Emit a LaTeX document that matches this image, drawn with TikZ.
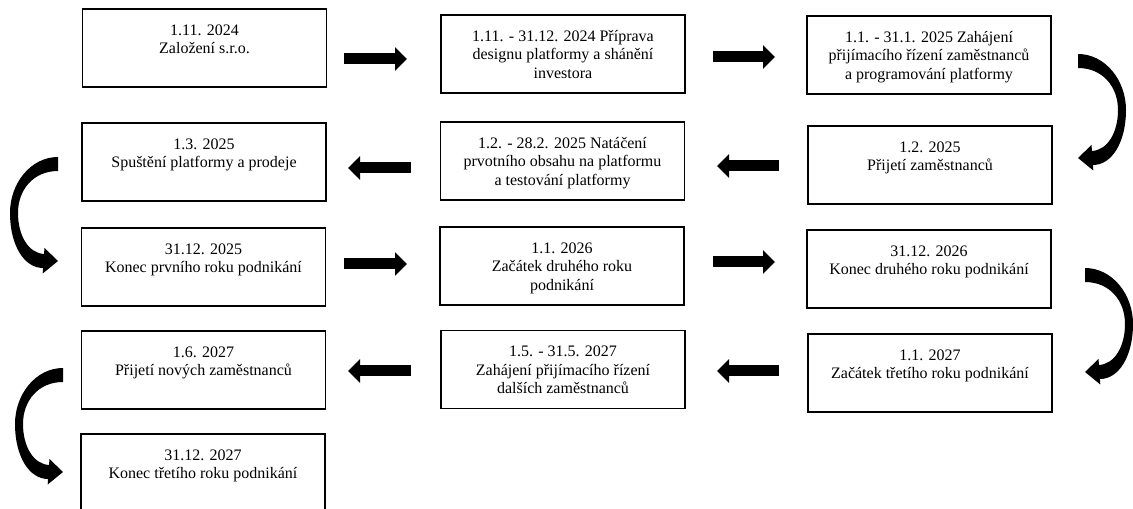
\documentclass[tikz,border=0pt]{standalone}
\usepackage{fontspec}
\setmainfont{Liberation Serif}
\usetikzlibrary{arrows.meta}
\begin{document}
\begin{tikzpicture}[x=0.75pt,y=-0.75pt,
  box/.style={draw=black, line width=0.8pt, minimum width=183pt, minimum height=58.5pt, inner sep=0pt},
  lbl/.style={anchor=north, align=center, inner sep=0pt, font=\rmfamily\fontsize{12pt}{13.8pt}\selectfont},
  barrow/.style={line width=8.25pt, -{Triangle[length=9pt,width=17.25pt]}},
  curvarr/.pic={\fill[black] (0,0) .. controls (27,0) and (48,26) .. (48,56)
     .. controls (48,88) and (34,111) .. (15,111) -- (15.3,116.5) -- (0,104) -- (13.5,91) -- (14,97)
     .. controls (30,96) and (40,78) .. (40,56)
     .. controls (40,32) and (24,14) .. (0,14) -- cycle;}
]
\useasboundingbox (0,0) rectangle (1133,509);
\clip (0,0) rectangle (1133,509);

% boxes
\node[box] (b1) at (204.5,48) {};
\node[box] (b2) at (563,54) {};
\node[box] (b3) at (929,55) {};
\node[box] (b4) at (204,162) {};
\node[box] (b5) at (562.5,161) {};
\node[box] (b6) at (930,165) {};
\node[box] (b7) at (203.5,267) {};
\node[box] (b8) at (562,266) {};
\node[box] (b9) at (929,269) {};
\node[box] (b10) at (203.5,370) {};
\node[box] (b11) at (563,369.5) {};
\node[box] (b12) at (930,373) {};
\node[box] (b13) at (203,473) {};

% texts
\node[lbl] (t1) at ([yshift=-10.2pt]b1.north) {\strut 1.11. 2024\\Založení s.r.o.};
\node[lbl] (t2) at ([yshift=-10.2pt]b2.north) {\strut 1.11. - 31.12. 2024 Příprava\\designu platformy a shánění\\investora};
\node[lbl] (t3) at ([yshift=-10.2pt]b3.north) {\strut 1.1. - 31.1. 2025 Zahájení\\přijímacího řízení zaměstnanců\\a programování platformy};
\node[lbl] (t4) at ([yshift=-10.2pt]b4.north) {\strut 1.3. 2025\\Spuštění platformy a prodeje};
\node[lbl] (t5) at ([yshift=-10.2pt]b5.north) {\strut 1.2. - 28.2. 2025 Natáčení\\prvotního obsahu na platformu\\a testování platformy};
\node[lbl] (t6) at ([yshift=-10.2pt]b6.north) {\strut 1.2. 2025\\Přijetí zaměstnanců};
\node[lbl] (t7) at ([yshift=-10.2pt]b7.north) {\strut 31.12. 2025\\Konec prvního roku podnikání};
\node[lbl] (t8) at ([yshift=-10.2pt]b8.north) {\strut 1.1. 2026\\Začátek druhého roku\\podnikání};
\node[lbl] (t9) at ([yshift=-10.2pt]b9.north) {\strut 31.12. 2026\\Konec druhého roku podnikání};
\node[lbl] (t10) at ([yshift=-10.2pt]b10.north) {\strut 1.6. 2027\\Přijetí nových zaměstnanců};
\node[lbl] (t11) at ([yshift=-10.2pt]b11.north) {\strut 1.5. - 31.5. 2027\\Zahájení přijímacího řízení\\dalších zaměstnanců};
\node[lbl] (t12) at ([yshift=-10.2pt]b12.north) {\strut 1.1. 2027\\Začátek třetího roku podnikání};
\node[lbl] (t13) at ([yshift=-10.2pt]b13.north) {\strut 31.12. 2027\\Konec třetího roku podnikání};

% straight block arrows
\coordinate (a1s) at (344,59);  \coordinate (a1e) at (407,59);
\coordinate (a2s) at (713,57);  \coordinate (a2e) at (775,57);
\coordinate (a3s) at (411,168); \coordinate (a3e) at (348,168);
\coordinate (a4s) at (779,166); \coordinate (a4e) at (717,166);
\coordinate (a5s) at (344,264); \coordinate (a5e) at (407,264);
\coordinate (a6s) at (713,262); \coordinate (a6e) at (775,262);
\coordinate (a7s) at (411,371); \coordinate (a7e) at (348,371);
\coordinate (a8s) at (779,371); \coordinate (a8e) at (717,371);
\foreach \i in {1,...,8} {\draw[barrow] (a\i s) -- (a\i e);}

% curved block arrows
\pic at (1078,54) {curvarr};
\pic at (1085,268) {curvarr};
\pic[xscale=-1] at (58,157) {curvarr};
\pic[xscale=-1] at (63,368) {curvarr};
\end{tikzpicture}
\end{document}
